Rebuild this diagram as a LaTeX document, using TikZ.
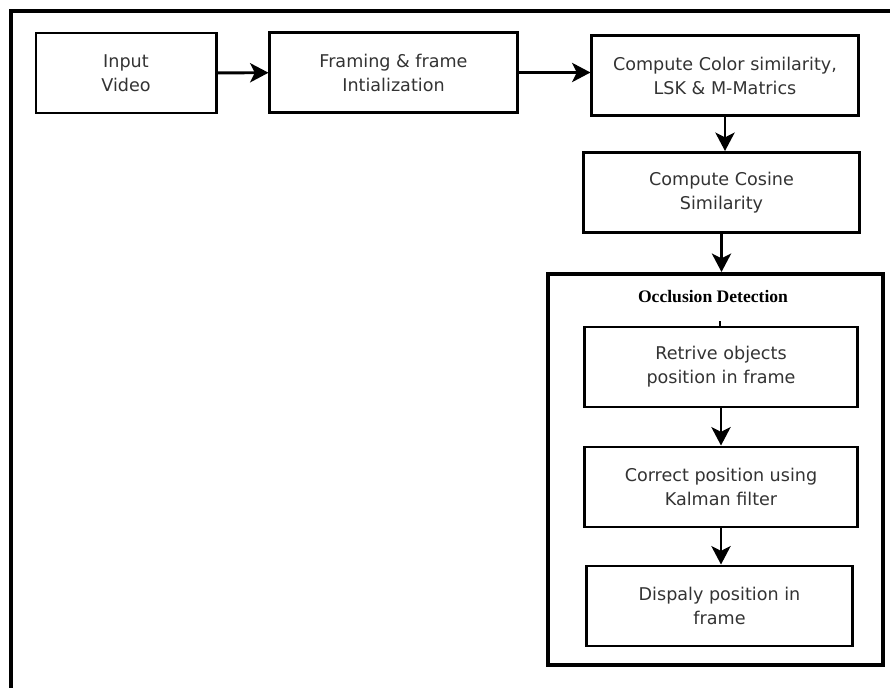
\documentclass[tikz,border=0pt]{standalone}
\usepackage{fontspec}
\setmainfont{DejaVu Sans}
\newfontfamily\titlefont{Liberation Serif}
\usetikzlibrary{arrows.meta,positioning}

\begin{document}
\begin{tikzpicture}[x=0.025cm, y=-0.025cm,
  >={Stealth[length=4.6mm, width=4.8mm, inset=1.2mm]},
  font=\fontsize{12.5}{17}\selectfont,
  stepbox/.style={draw, line width=2.1pt, minimum height=2cm, align=center, text=black!80, inner sep=2pt},
  group/.style={draw, line width=2.8pt},
  flow/.style={->, line width=2.1pt}]
\useasboundingbox (0,0) rectangle (890,688);
% page frame, runs off on the right and bottom
\draw[line width=2.5pt] (11,688) -- (11,11) -- (890,11);
% top row
\node[stepbox, minimum width=4.5cm] (input) at (126,73) {Input\\Video};
\node[stepbox, minimum width=6.175cm] (framing) at (393.5,72.5) {Framing \& frame\\Intialization};
\node[stepbox, minimum width=6.65cm] (color) at (725,75.5) {Compute Color similarity,\\LSK \& M-Matrics};
\node[stepbox, minimum width=6.875cm] (cosine) at (721.5,192.5) {Compute Cosine\\Similarity};
% occlusion detection block
\node[group, minimum width=8.375cm, minimum height=9.775cm] (occl) at (715.5,469.5) {};
\node[font=\titlefont\bfseries\fontsize{12.5}{15}\selectfont] (title) at (713,297) {Occlusion Detection};
\node[stepbox, minimum width=6.8cm] (retrive) at (721,367) {Retrive objects\\position in frame};
\node[stepbox, minimum width=6.8cm] (correct) at (721,487) {Correct position using\\Kalman filter};
\node[stepbox, minimum width=6.625cm] (display) at (719.5,606) {Dispaly position in\\frame};
% connectors
\draw[flow] (input) -- (framing);
\draw[flow] (framing.east) -- (framing.east -| color.west);
\draw[flow] (color.south) -- (color.south |- cosine.north);
\draw[flow] (cosine.south) -- (cosine.south |- occl.north);
\draw[line width=1pt] (retrive.north -| 720,0) -- ++(0,-5);
\draw[flow] (retrive.south) -- (retrive.south |- correct.north);
\draw[flow] (correct.south) -- (correct.south |- display.north);
\end{tikzpicture}
\end{document}
